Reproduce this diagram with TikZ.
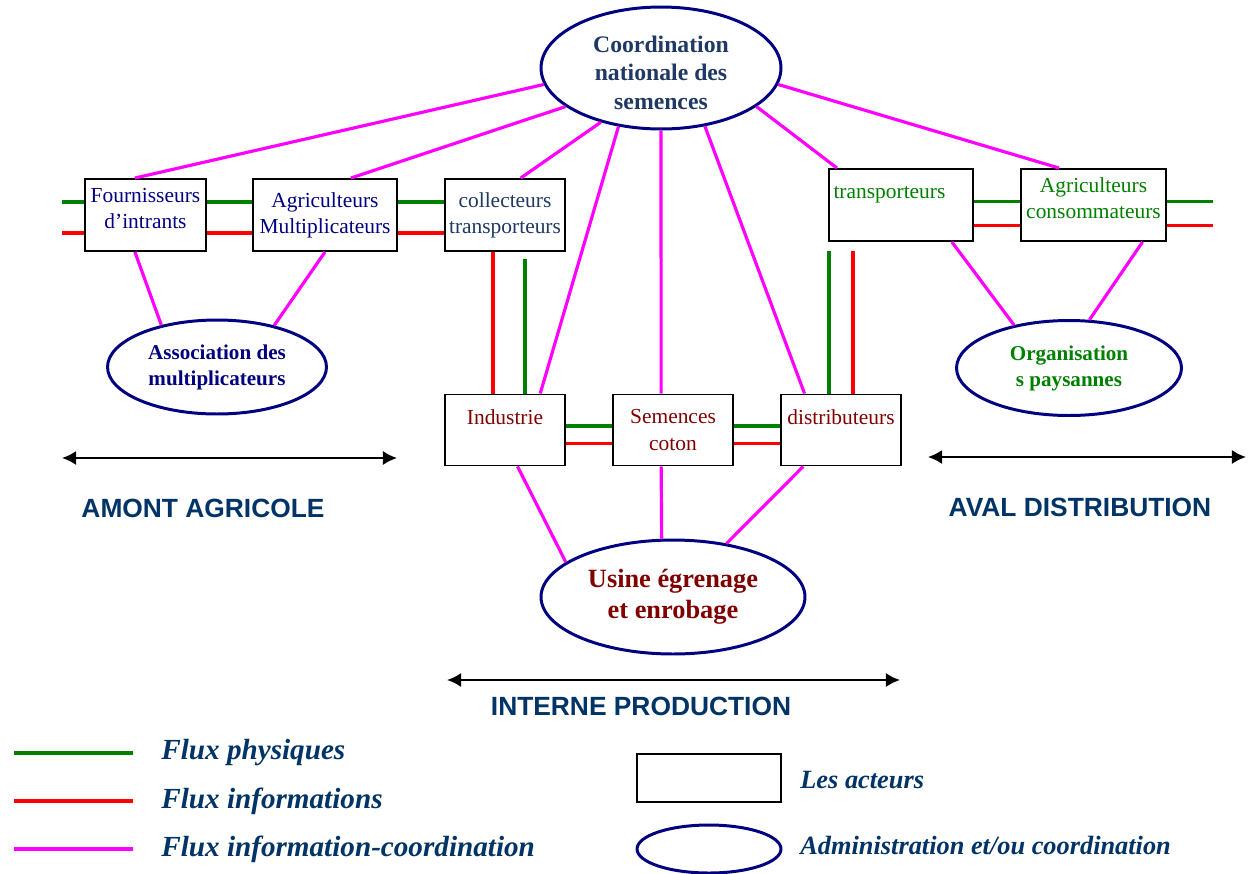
\documentclass[tikz,border=0pt]{standalone}
\usepackage{fontspec}
\setmainfont{Liberation Serif}
\setsansfont{Liberation Sans}
\usetikzlibrary{shapes.geometric,positioning,arrows.meta}
\definecolor{marine}{RGB}{0,0,128}
\definecolor{bleutexte}{RGB}{31,56,100}
\definecolor{bleuzone}{RGB}{0,51,102}
\definecolor{vert}{RGB}{0,128,0}
\definecolor{rouge}{RGB}{255,0,0}
\definecolor{rose}{RGB}{255,0,255}
\definecolor{bordeaux}{RGB}{128,0,0}
\tikzset {
acteur/.style={shape=rectangle,draw,line width=1.1pt,fill=white,align=center,inner sep=1pt,font=\fontsize{12.2}{14.8}\selectfont},
admin/.style={shape=ellipse,draw=marine,line width=1.7pt,fill=white,align=center,inner sep=0pt,font=\bfseries\fontsize{12}{14.8}\selectfont},
physique/.style={draw=vert,line width=1.8pt},
info/.style={draw=rouge,line width=1.8pt},
coord/.style={draw=rose,line width=1.8pt},
zone/.style={font=\sffamily\bfseries\fontsize{15}{18}\selectfont,text=bleuzone},
legende/.style={font=\bfseries\itshape\fontsize{16.6}{20}\selectfont,text=bleuzone,anchor=west,inner sep=0pt}
}

\begin{document}
\begin{tikzpicture}
[x=0.02cm,y=-0.02cm,>={Latex[length=8pt,width=8pt]}]
\useasboundingbox (0,0) rectangle (1248,873);

% administrations
\node[admin,minimum width=4.8cm,minimum height=2.44cm,text=bleutexte,font=\bfseries\fontsize{13.5}{16.2}\selectfont,text height=47pt] (coordination) at (661,68) {Coordination\\nationale des\\semences};
\node[admin,minimum width=4.38cm,minimum height=1.88cm,text=marine] (association) at (217,367) {Association des\\multiplicateurs};
\node[admin,minimum width=4.5cm,minimum height=1.9cm,text=vert] (organisations) at (1069,368) {Organisation\\s paysannes};
\node[admin,minimum width=5.28cm,minimum height=2.28cm,text=bordeaux,font=\bfseries\fontsize{15}{17.6}\selectfont] (usine) at (673,597) {Usine égrenage\\et enrobage};

% acteurs
\node[acteur,minimum width=2.42cm,minimum height=1.44cm,text=marine,text depth=8pt] (fournisseurs) at (145.5,215) {Fournisseurs\\d’intrants};
\node[acteur,minimum width=2.88cm,minimum height=1.44cm,text=marine] (agri mult) at (325,215) {Agriculteurs\\Multiplicateurs};
\node[acteur,minimum width=2.4cm,minimum height=1.44cm,text=bleutexte] (collecteurs) at (505,215) {collecteurs\\transporteurs};
\node[acteur,minimum width=2.88cm,minimum height=1.44cm,text=vert,text width=2.7cm,align=left] (transporteurs) at (901,205) {transporteurs\\\mbox{}};
\node[acteur,minimum width=2.9cm,minimum height=1.44cm,text=vert,text depth=8pt] (agri conso) at (1093.5,205) {Agriculteurs\\consommateurs};
\node[acteur,minimum width=2.4cm,minimum height=1.42cm,text=bordeaux] (industrie) at (505,430) {Industrie\\\mbox{}};
\node[acteur,minimum width=2.4cm,minimum height=1.42cm,text=bordeaux] (semences) at (673,430) {Semences\\coton};
\node[acteur,minimum width=2.4cm,minimum height=1.42cm,text=bordeaux] (distributeurs) at (841,430) {distributeurs\\\mbox{}};

% flux amont
\coordinate (entree vert) at (62,202);
\coordinate (entree rouge) at (62,233);
\draw[physique] (entree vert) -- (entree vert -| fournisseurs.west);
\draw[info] (entree rouge) -- (entree rouge -| fournisseurs.west);
\draw[physique] ([yshift=2.6mm]fournisseurs.east) -- ([yshift=2.6mm]agri mult.west);
\draw[info] ([yshift=-3.6mm]fournisseurs.east) -- ([yshift=-3.6mm]agri mult.west);
\draw[physique] ([yshift=2.6mm]agri mult.east) -- ([yshift=2.6mm]collecteurs.west);
\draw[info] ([yshift=-3.6mm]agri mult.east) -- ([yshift=-3.6mm]collecteurs.west);
\draw[info] ([xshift=-2.4mm]collecteurs.south) -- ([xshift=-2.4mm]industrie.north);
\draw[physique,shorten <=1.4mm] ([xshift=4mm]collecteurs.south) -- ([xshift=4mm]industrie.north);

% flux interne
\draw[physique] ([yshift=0.8mm]industrie.east) -- ([yshift=0.8mm]semences.west);
\draw[info] ([yshift=-2.7mm]industrie.east) -- ([yshift=-2.7mm]semences.west);
\draw[physique] ([yshift=0.8mm]semences.east) -- ([yshift=0.8mm]distributeurs.west);
\draw[info] ([yshift=-2.7mm]semences.east) -- ([yshift=-2.7mm]distributeurs.west);

% flux aval
\draw[physique,shorten >=1.8mm] ([xshift=-2.4mm]distributeurs.north) -- ([xshift=-2.4mm]distributeurs.north |- transporteurs.south);
\draw[info,shorten >=1.8mm] ([xshift=2.4mm]distributeurs.north) -- ([xshift=2.4mm]distributeurs.north |- transporteurs.south);
\draw[physique] ([yshift=0.66mm]transporteurs.east) -- ([yshift=0.66mm]agri conso.west);
\draw[info] ([yshift=-4.1mm]transporteurs.east) -- ([yshift=-4.1mm]agri conso.west);
\coordinate (sortie vert) at (1213,201.7);
\coordinate (sortie rouge) at (1213,225.7);
\draw[physique] (sortie vert -| agri conso.east) -- (sortie vert);
\draw[info] (sortie rouge -| agri conso.east) -- (sortie rouge);

% coordination
\draw[coord] (coordination.188) -- (fournisseurs.106);
\draw[coord] (coordination.202) -- (agri mult.55);
\draw[coord] (coordination.222) -- (collecteurs.67);
\draw[coord] (coordination.234) -- (industrie.46);
\draw[coord] (coordination.270) -- (semences.108);
\draw[coord] (coordination.307) -- (distributeurs.135);
\draw[coord] (coordination.338) -- (transporteurs.150);
\draw[coord] (coordination.352) -- (agri conso.133);
\draw[coord] (fournisseurs.254) -- (association.143);
\draw[coord] (agri mult.south) -- (association.36);
\draw[coord] (transporteurs.324) -- (organisations.142);
\draw[coord] (agri conso.323) -- (organisations.67);
\draw[coord] (industrie.289) -- (usine.162);
\draw[coord] (semences.252) -- (usine.101);
\draw[coord] (distributeurs.224) -- (usine.45);

% zones
\coordinate (amont debut) at (62,458);
\coordinate (amont fin) at (397,458);
\draw[<->,line width=1.1pt] (amont debut) -- (amont fin);
\node[zone] (amont) at (203,508) {AMONT AGRICOLE};
\coordinate (aval debut) at (928,457);
\coordinate (aval fin) at (1246,457);
\draw[<->,line width=1.1pt] (aval debut) -- (aval fin);
\node[zone] (aval) at (1080,507) {AVAL DISTRIBUTION};
\coordinate (interne debut) at (447,680);
\coordinate (interne fin) at (900,680);
\draw[<->,line width=1.1pt] (interne debut) -- (interne fin);
\node[zone] (interne) at (641,706) {INTERNE PRODUCTION};

% legende
\node[legende] (leg physiques) at (161,753) {Flux physiques};
\node[legende] (leg informations) at (161,801) {Flux informations};
\node[legende] (leg coordination) at (161,849) {Flux information-coordination};
\coordinate (leg vert) at (14,753);
\coordinate (leg rouge) at (14,801);
\coordinate (leg magenta) at (14,849);
\draw[physique] (leg vert) -- ([xshift=-5.6mm]leg physiques.west);
\draw[info] (leg rouge) -- ([xshift=-5.6mm]leg informations.west);
\draw[coord] (leg magenta) -- ([xshift=-5.6mm]leg coordination.west);
\node[acteur,minimum width=2.88cm,minimum height=0.96cm] (leg acteur) at (709,778) {};
\node[admin,minimum width=2.88cm,minimum height=0.96cm] (leg admin) at (709,849) {};
\node[legende,font=\bfseries\itshape\fontsize{15}{18}\selectfont] (leg acteurs) at (800,780) {Les acteurs};
\node[legende,font=\bfseries\itshape\fontsize{15}{18}\selectfont] (leg administration) at (800,845) {Administration et/ou coordination};
\end{tikzpicture}
\end{document}
